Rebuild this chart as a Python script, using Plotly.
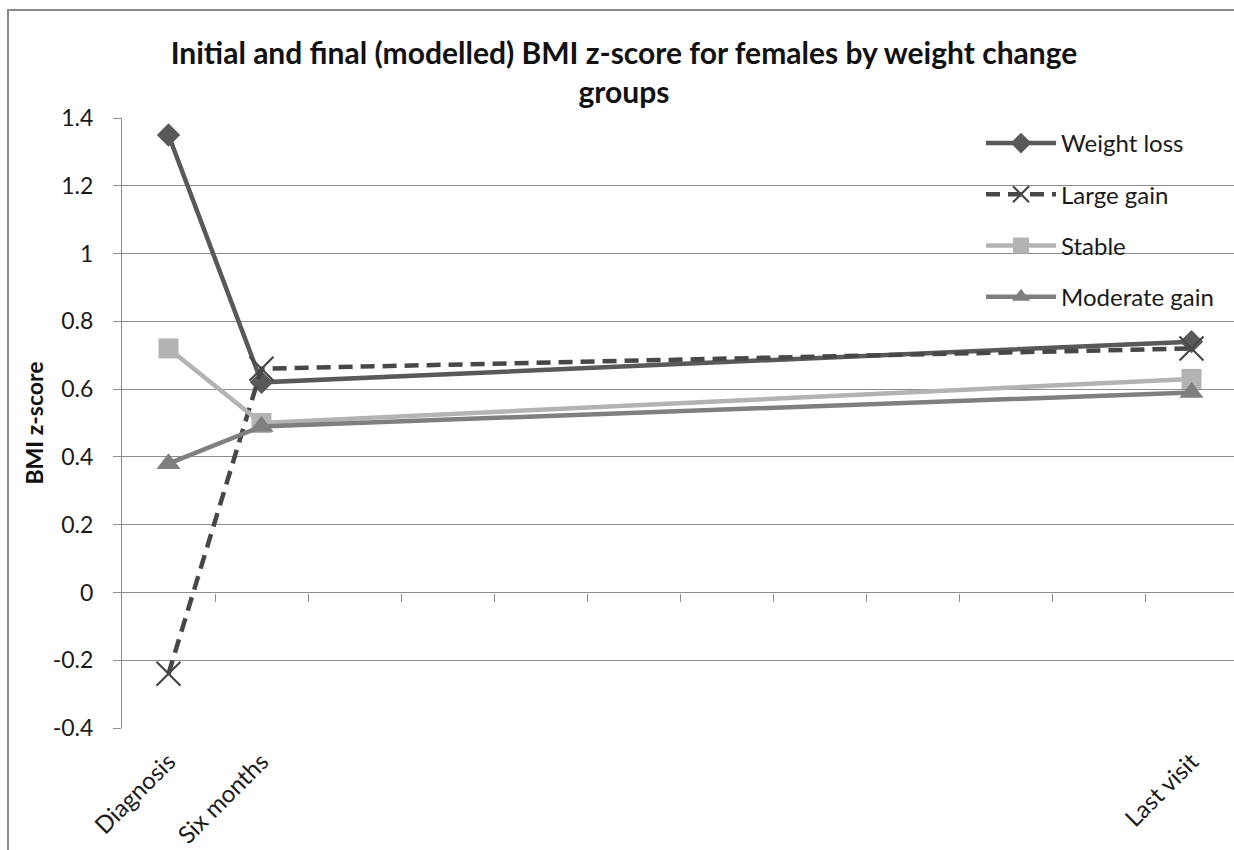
import plotly.graph_objects as go

# Time points on the category axis (only three carry data)
categories = ["Diagnosis", "Six months", "", "", "", "", "", "", "", "", "", "Last visit"]
labelled = [0, 1, 11]

weight_loss = [1.35, 0.62, None, None, None, None, None, None, None, None, None, 0.74]
large_gain = [-0.24, 0.66, None, None, None, None, None, None, None, None, None, 0.72]
stable = [0.72, 0.50, None, None, None, None, None, None, None, None, None, 0.63]
moderate_gain = [0.38, 0.49, None, None, None, None, None, None, None, None, None, 0.59]

y_ticks = [1.4, 1.2, 1.0, 0.8, 0.6, 0.4, 0.2, 0.0, -0.2, -0.4]
y_tick_text = ["1.4", "1.2", "1", "0.8", "0.6", "0.4", "0.2", "0", "-0.2", "-0.4"]

FONT = "Lato"
GRID = "#8c8c8c"
x_idx = list(range(len(categories)))

W, H = 1234, 850
L, R, T, B = 122, 0, 118, 122
PW, PH = W - L - R, H - T - B

fig = go.Figure()

series = [
    ("Weight loss", weight_loss, "#595959", "solid", dict(symbol="diamond", size=18, color="#595959")),
    ("Large gain", large_gain, "#474747", "14px,8px",
     dict(symbol="x-thin", size=24, color="#474747", line=dict(width=2.2, color="#474747"))),
    ("Stable", stable, "#b3b3b3", "solid", dict(symbol="square", size=20, color="#b3b3b3")),
    ("Moderate gain", moderate_gain, "#7f7f7f", "solid", dict(symbol="triangle-up", size=21, color="#7f7f7f")),
]

for i, (name, vals, color, dash, marker) in enumerate(series):
    fig.add_trace(go.Scatter(
        x=x_idx, y=vals, name=name, mode="lines+markers",
        connectgaps=True,
        line=dict(color=color, width=4.5, dash=dash),
        marker=marker,
        legendgroup=f"g{i}",
    ))

# Category axis line at y = 0 with boundary tick marks
fig.add_trace(go.Scatter(x=[0], y=[None], xaxis="x2", showlegend=False, hoverinfo="skip"))

x_range = [-0.5, len(categories) - 0.5 - 4 / 93]

fig.update_layout(
    width=W, height=H,
    margin=dict(l=L, r=R, t=T, b=B, autoexpand=False),
    paper_bgcolor="white", plot_bgcolor="white",
    font=dict(family=FONT, color="#1a1a1a"),
    title=dict(
        text="<b>Initial and final (modelled) BMI z-score for females by weight change<br>groups</b>",
        x=624 / W, xanchor="center", xref="container",
        y=1 - 64 / H, yanchor="middle", yref="container",
        font=dict(family=FONT, size=30, color="#111111"),
    ),
    xaxis=dict(
        range=x_range, showgrid=False, zeroline=False, showline=False,
        tickmode="array", tickvals=labelled, ticktext=[categories[i] for i in labelled],
        tickangle=-45, ticks="", tickfont=dict(size=24, color="#1a1a1a"),
        ticklabelstandoff=14, automargin=False,
    ),
    xaxis2=dict(
        range=x_range, overlaying="x", anchor="free", position=2 / 9,
        showgrid=False, zeroline=False, showline=True, linecolor=GRID, linewidth=1.2,
        tickmode="array", tickvals=[i + 0.5 for i in range(len(categories) - 1)],
        ticks="outside", ticklen=8, tickcolor=GRID, tickwidth=1.2, showticklabels=False,
    ),
    yaxis=dict(
        range=[-0.4, 1.4], tickmode="array", tickvals=y_ticks, ticktext=y_tick_text,
        showgrid=True, gridcolor=GRID, gridwidth=1.2, zeroline=False,
        showline=True, linecolor=GRID, linewidth=1.2,
        ticks="outside", ticklen=8, tickcolor=GRID, tickwidth=1.2,
        tickfont=dict(size=23, color="#1a1a1a"), ticklabelstandoff=15,
        title=dict(text="<b>BMI z-score</b>", font=dict(size=23, color="#111111"), standoff=2),
        automargin=False,
    ),
    legend=dict(
        x=(981 - L) / PW, xanchor="left",
        y=(H - B - 121) / PH, yanchor="top",
        font=dict(size=24, color="#1a1a1a"), tracegroupgap=17,
        bgcolor="rgba(0,0,0,0)", itemwidth=70,
    ),
    showlegend=True,
)

# Outer chart border
fig.add_shape(type="rect", xref="paper", yref="paper",
              x0=-(L - 8) / PW, x1=1.2, y0=-0.3, y1=1 + (T - 10) / PH,
              line=dict(color="#8a8a8a", width=2), fillcolor="rgba(0,0,0,0)", layer="below")

fig.write_html("out.html")
